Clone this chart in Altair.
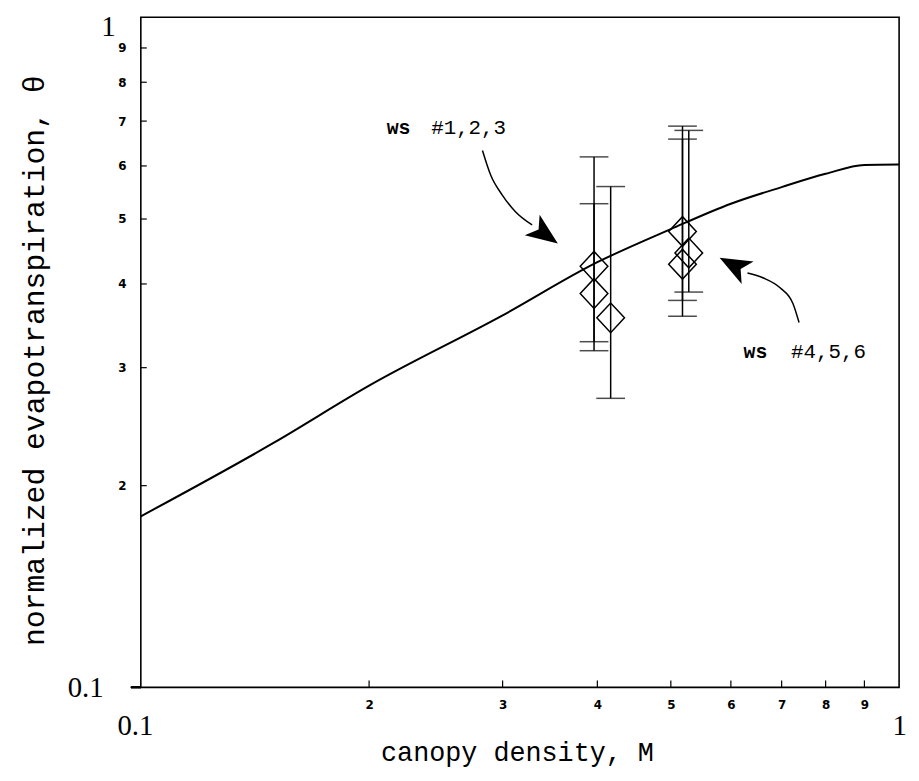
import altair as alt
import pandas as pd

# ---- data ----
curve_m = [0.1, 0.15, 0.2, 0.3, 0.4, 0.5, 0.6, 0.7, 0.8, 0.9, 1.0]
curve_theta = [0.180, 0.232, 0.282, 0.359, 0.431, 0.483, 0.527, 0.558, 0.584, 0.602, 0.603]

ws_m = [0.396, 0.396, 0.4165, 0.518, 0.528, 0.518]
ws_theta = [0.425, 0.387, 0.356, 0.479, 0.445, 0.428]
ws_hi = [0.619, 0.527, 0.559, 0.688, 0.678, 0.658]
ws_lo = [0.328, 0.318, 0.270, 0.378, 0.389, 0.358]

axis_vals = [0.1, 0.2, 0.3, 0.4, 0.5, 0.6, 0.7, 0.8, 0.9, 1.0]
tick_vals = [0.2, 0.3, 0.4, 0.5, 0.6, 0.7, 0.8, 0.9]

# annotation arrows (data coordinates)
arrow1_m = [0.2822, 0.2893, 0.2997, 0.3119, 0.3281]
arrow1_t = [0.6329, 0.5818, 0.5429, 0.5128, 0.4901]
arrow2_m = [0.738, 0.7246, 0.6967, 0.6622, 0.631]
arrow2_t = [0.3503, 0.3737, 0.3947, 0.4083, 0.4153]
head_m = [0.3412, 0.605]
head_t = [0.4745, 0.4265]
head_angle = [126, 298]

label_ws = ["ws", "ws"]
label_num = ["#1,2,3", "#4,5,6"]
label_ws_m = [0.2110, 0.6235]
label_num_m = [0.2415, 0.7203]
label_t = [0.6829, 0.3162]

W, H = 765, 676

curve_df = pd.DataFrame({"m": curve_m, "theta": curve_theta})
ws_df = pd.DataFrame({"m": ws_m, "theta": ws_theta, "hi": ws_hi, "lo": ws_lo})
tick_df = pd.DataFrame({"v": tick_vals})
arrow_df = pd.DataFrame({
    "m": arrow1_m + arrow2_m,
    "t": arrow1_t + arrow2_t,
    "arrow": ["a"] * len(arrow1_m) + ["b"] * len(arrow2_m),
    "i": list(range(len(arrow1_m))) + list(range(len(arrow2_m))),
})
head_df = pd.DataFrame({"m": head_m, "t": head_t, "ang": head_angle})
lab_df = pd.DataFrame({"mw": label_ws_m, "mn": label_num_m, "t": label_t,
                       "ws": label_ws, "num": label_num})

xs = alt.Scale(type="log", domain=[0.1, 1], nice=False)
ys = alt.Scale(type="log", domain=[0.1, 1], nice=False)

big = "datum.value < 0.15 || datum.value > 0.95"
lab_expr = ("datum.value < 0.15 ? '0.1' : (datum.value > 0.95 ? '1' : "
            "format(round(datum.value * 10), 'd'))")

common_axis = dict(
    values=axis_vals,
    labelExpr=lab_expr,
    domain=False,
    ticks=False,
    tickSize=0,
    grid=False,
    labelFlush=False,
    labelOverlap=False,
    labelColor="black",
    titleColor="black",
    labelFont={"condition": {"test": big, "value": "Liberation Serif"}, "value": "DejaVu Sans"},
    labelFontSize={"condition": {"test": big, "value": 29}, "value": 12},
    labelFontWeight={"condition": {"test": big, "value": "normal"}, "value": "bold"},
)

x_axis = alt.Axis(
    title="canopy density, M",
    titleFont="Liberation Mono",
    titleFontSize=27,
    titleFontWeight="normal",
    titleX=W / 2 - 3,
    titleY=66,
    titleBaseline="middle",
    labelBaseline="top",
    labelPadding={"condition": {"test": big, "value": 25}, "value": 12},
    labelOffset={"condition": {"test": "datum.value < 0.15", "value": -6}, "value": 0},
    **common_axis,
)

y_axis = alt.Axis(
    title="normalized evapotranspiration, θ",
    titleFont="Liberation Mono",
    titleFontSize=30,
    titleFontWeight="normal",
    titleX=-107,
    titleY=H / 2 + 8,
    titleBaseline="middle",
    labelAlign="right",
    labelBaseline="middle",
    labelPadding={"condition": [
        {"test": "datum.value < 0.15", "value": 38},
        {"test": "datum.value > 0.95", "value": 26},
    ], "value": 15},
    labelOffset={"condition": {"test": "datum.value > 0.95", "value": 9}, "value": 0},
    **common_axis,
)


def X(field):
    return alt.X(field, scale=xs, axis=x_axis)


def Y(field):
    return alt.Y(field, scale=ys, axis=y_axis)


curve = alt.Chart(curve_df).mark_line(
    color="black", strokeWidth=2, interpolate="monotone", clip=True
).encode(x=X("m:Q"), y=Y("theta:Q"))

bars = alt.Chart(ws_df).mark_rule(color="black", strokeWidth=1.5).encode(
    x=X("m:Q"), y=Y("lo:Q"), y2="hi:Q",
)
cap_hi = alt.Chart(ws_df).mark_tick(
    color="black", orient="horizontal", size=29, thickness=1.5
).encode(x=X("m:Q"), y=Y("hi:Q"))
cap_lo = alt.Chart(ws_df).mark_tick(
    color="black", orient="horizontal", size=29, thickness=1.5
).encode(x=X("m:Q"), y=Y("lo:Q"))
diamonds = alt.Chart(ws_df).mark_point(
    shape="M-0.93,0L0,-1L0.93,0L0,1Z", size=900, filled=False,
    color="black", strokeWidth=1.5, opacity=1
).encode(x=X("m:Q"), y=Y("theta:Q"))

xticks = alt.Chart(tick_df).mark_rule(color="black", strokeWidth=1.2).encode(
    x=X("v:Q"), y=alt.value(H), y2=alt.value(H - 7),
)
yticks = alt.Chart(tick_df).mark_rule(color="black", strokeWidth=1.2).encode(
    y=Y("v:Q"), x=alt.value(0), x2=alt.value(6),
)
xline_ext = alt.Chart(tick_df).mark_rule(color="black", strokeWidth=1.5).encode(
    x=alt.value(-10), x2=alt.value(0), y=alt.value(H)
)

arrows = alt.Chart(arrow_df).mark_line(
    color="black", strokeWidth=1.5, interpolate="monotone"
).encode(
    x=X("m:Q"), y=Y("t:Q"), detail="arrow:N", order="i:Q",
)
heads = alt.Chart(head_df).mark_point(
    shape="M0,-1L0.8,1L0,0.5L-0.8,1Z", size=1024, filled=True,
    color="black", opacity=1
).encode(
    x=X("m:Q"), y=Y("t:Q"), angle=alt.Angle("ang:Q", scale=None),
)

ws_text = alt.Chart(lab_df).mark_text(
    align="left", baseline="middle", font="Liberation Mono", fontSize=20,
    fontWeight="bold", color="black"
).encode(x=X("mw:Q"), y=Y("t:Q"), text="ws:N")
num_text = alt.Chart(lab_df).mark_text(
    align="left", baseline="middle", font="Liberation Mono", fontSize=21,
    color="black"
).encode(x=X("mn:Q"), y=Y("t:Q"), text="num:N")

chart = alt.layer(
    curve, bars, cap_hi, cap_lo, diamonds, xticks, yticks, xline_ext,
    arrows, heads, ws_text, num_text
).properties(
    width=W, height=H,
    autosize=alt.AutoSizeParams(type="none"),
    padding={"left": 134, "top": 6, "right": 12, "bottom": 83},
    background="white",
).configure_view(
    stroke="black", strokeWidth=1.6
)

chart.save("out.html", embed_options={"renderer": "svg", "actions": False})
